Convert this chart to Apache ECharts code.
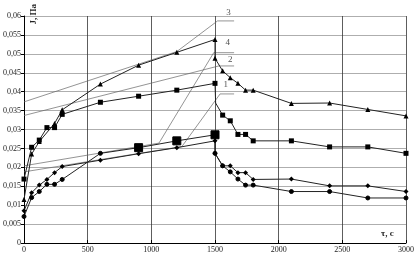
<!DOCTYPE html>
<html><head><meta charset="utf-8">
<script src="https://cdn.jsdelivr.net/npm/echarts@6/dist/echarts.min.js"></script>
<style>html,body{margin:0;padding:0;background:#fff}#c{width:417px;height:258px}</style>
</head><body><div id="c"></div>
<script>
// Data (time in s, J in Pa)
const xTicks = ['0','500','1000','1500','2000','2500','3000'];
const yTicks = ['0','0,005','0,01','0,015','0,02','0,025','0,03','0,035','0,04','0,045','0,05','0,055','0,06'];

const tA = [0,60,120,240,300,600,900,1200,1500,1500,1560,1620,1680,1740,1800,2100,2400,2700,3000];
const vA = [0.0115,0.0235,0.0268,0.0316,0.0352,0.042,0.047,0.0504,0.0538,0.0488,0.0455,0.0437,0.0422,0.0404,0.0404,0.0369,0.037,0.0353,0.0336];

const tB = [0,60,120,180,240,300,600,900,1200,1500,1505,1560,1620,1680,1740,1800,2100,2400,2700,3000];
const vB = [0.0169,0.0253,0.0272,0.0305,0.0305,0.034,0.0372,0.0388,0.0404,0.0422,0.037,0.0338,0.0323,0.0287,0.0287,0.027,0.027,0.0254,0.0254,0.0237];

const tC = [0,60,120,180,240,300,600,900,1200,1500,1500,1560,1620,1680,1740,1800,2100,2400,2700,3000];
const vC = [0.007,0.012,0.0136,0.0155,0.0155,0.0168,0.0237,0.0252,0.027,0.0286,0.0237,0.0204,0.0188,0.0169,0.0153,0.0153,0.0136,0.0136,0.0119,0.0119];
const bigC = [900,1200,1500];

const tD = [0,60,120,180,240,300,600,900,1200,1500,1500,1560,1620,1680,1740,1800,2100,2400,2700,3000];
const vD = [0.0085,0.0133,0.0153,0.0168,0.0186,0.0202,0.0219,0.0236,0.0252,0.027,0.0237,0.0204,0.0204,0.0186,0.0186,0.0168,0.0169,0.0151,0.0151,0.0136];

// construction (tangent) lines
const g3t = [0,1200,1520,1650], g3v = [0.0373,0.0506,0.0587,0.0587];
const g2t = [0,1530,1650],      g2v = [0.0337,0.0468,0.0468];
const g4t = [0,1060,1490,1650], g4v = [0.0204,0.0264,0.0503,0.0503];
const g1t = [0,1240,1540,1650], g1v = [0.0188,0.0255,0.0394,0.0394];

const labNames = ['3','4','2','1'];
const labT = [1607,1600,1620,1585];
const labV = [0.0609,0.0529,0.0484,0.0418];

const zip = (t,v)=>t.map((x,i)=>[x,v[i]]);
const FONT = 'Liberation Serif';
const lineCol = '#222';

function thin(t,v){
  return {type:'line',data:zip(t,v),symbol:'none',silent:true,
    lineStyle:{color:'#666',width:0.7},z:1};
}

const chart = echarts.init(document.getElementById('c'));
chart.setOption({
  animation:false,
  grid:{left:22,right:7,top:16,bottom:15},
  xAxis:{type:'value',min:0,max:3000,interval:500,
    axisLine:{show:true,lineStyle:{color:'#000',width:1}},
    axisTick:{show:true,length:3,inside:true,lineStyle:{color:'#000'}},
    axisLabel:{fontFamily:FONT,fontSize:8,color:'#222',margin:3,
      formatter:v=>xTicks[Math.round(v/500)]},
    splitLine:{show:true,lineStyle:{color:'#333',width:0.8}}},
  yAxis:{type:'value',min:0,max:0.06,interval:0.005,
    axisLine:{show:true,onZero:false,lineStyle:{color:'#000',width:1}},
    axisTick:{show:true,length:3,lineStyle:{color:'#000'}},
    axisLabel:{fontFamily:FONT,fontSize:8,color:'#222',margin:3,
      formatter:v=>yTicks[Math.round(v/0.005)]},
    splitLine:{show:true,lineStyle:{color:'#999',width:0.8}}},
  graphic:[
    {type:'text',left:29,top:4,rotation:Math.PI/2,
      style:{text:'J, Па',font:'bold 9px "Liberation Serif"',fill:'#222'}},
    {type:'text',left:381,top:229,
      style:{text:'τ, с',font:'bold 9px "Liberation Serif"',fill:'#222'}}
  ],
  series:[
    thin(g3t,g3v), thin(g2t,g2v), thin(g4t,g4v), thin(g1t,g1v),
    {type:'line',data:zip(tA,vA),symbol:'triangle',symbolSize:5,
      lineStyle:{color:lineCol,width:1},itemStyle:{color:'#000'},z:3},
    {type:'line',data:zip(tB,vB).map(p=>p[0]===1505?{value:p,symbol:'none'}:p),symbol:'rect',symbolSize:5,
      lineStyle:{color:lineCol,width:1},itemStyle:{color:'#000'},z:3},
    {type:'line',data:zip(tC,vC).map((p,i)=>bigC.includes(p[0])&&i<10?{value:p,symbol:'rect',symbolSize:8}:p),
      symbol:'circle',symbolSize:4,
      lineStyle:{color:lineCol,width:1},itemStyle:{color:'#000',borderColor:'#000'},z:3},
    {type:'line',data:zip(tD,vD),symbol:'diamond',symbolSize:5,
      lineStyle:{color:lineCol,width:1},itemStyle:{color:'#000'},z:3},
    {type:'scatter',data:zip(labT,labV),symbol:'circle',symbolSize:2,clip:false,silent:true,
      itemStyle:{color:'rgba(0,0,0,0)'},z:10,labelLayout:{hideOverlap:false},
      label:{show:true,position:'inside',fontFamily:FONT,fontSize:9,color:'#222',
        formatter:p=>labNames[p.dataIndex]}}
  ]
});
</script></body></html>
